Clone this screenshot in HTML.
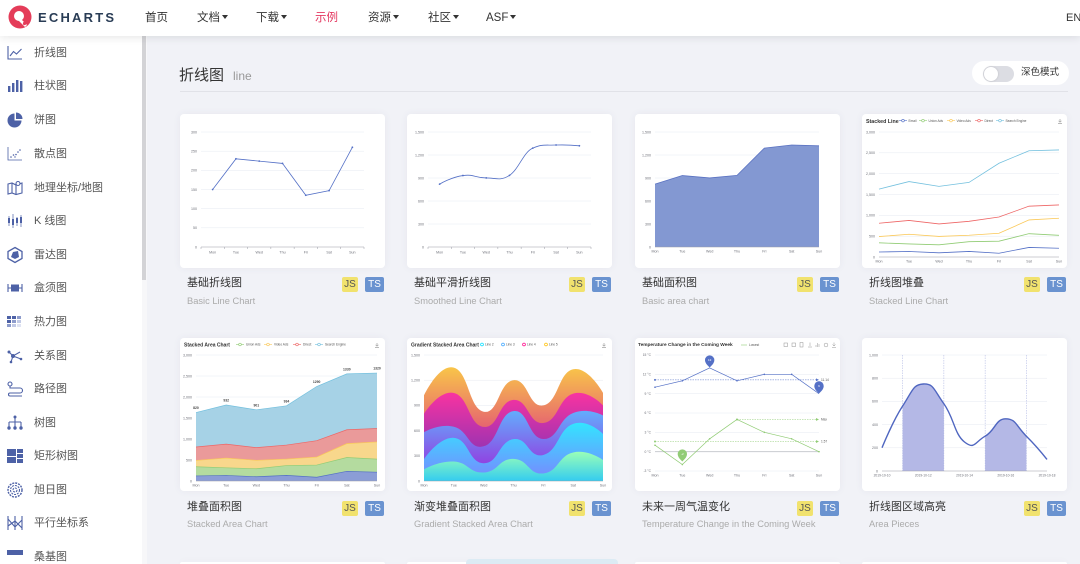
<!DOCTYPE html>
<html><head><meta charset="utf-8">
<style>
*{margin:0;padding:0;box-sizing:border-box}
html{width:1080px;height:564px;overflow:hidden}
body{width:1080px;height:564px;overflow:hidden;position:relative;background:#f1f2f7;font-family:"Liberation Sans","Noto Sans CJK SC",sans-serif;color:#333}
#wrap{position:absolute;left:0;top:0;width:1080px;height:564px;overflow:hidden}
.abs{position:absolute}
#hdr{left:0;top:0;width:1080px;height:36px;background:#fff;box-shadow:0 2px 8px rgba(0,0,0,0.09);z-index:5}
.nav{position:absolute;top:10px;font-size:11.5px;line-height:16px;color:#333;white-space:nowrap}
.nav i{display:inline-block;width:0;height:0;border-left:3px solid transparent;border-right:3px solid transparent;border-top:4px solid #333;margin-left:2px;vertical-align:2px}
#side{left:0;top:36px;width:142px;height:528px;background:#fff;z-index:2}
.si{position:absolute;left:34px;font-size:11px;color:#555;line-height:14px;white-space:nowrap}
.card{position:absolute;width:205px;background:#fff;border-radius:4px;box-shadow:0 0 8px rgba(60,70,110,0.06)}
.ct{position:absolute;font-size:11px;line-height:16px;color:#333;white-space:nowrap}
.cs{position:absolute;font-size:9.3px;line-height:14px;color:#ababab;white-space:nowrap}
.js,.ts{position:absolute;height:15px;border-radius:2px;font-size:10px;line-height:15px;text-align:center}
.js{width:16px;background:#f1e26e;color:#555}
.ts{width:19px;background:#6a93d0;color:#fff}
svg text{font-family:"Liberation Sans",sans-serif}
</style></head><body>
<div id="wrap">

<div id="hdr" class="abs">
  <svg class="abs" style="left:0;top:0" width="40" height="36">
    <circle cx="20" cy="17" r="11.5" fill="#e43c59"/>
    <circle cx="19" cy="16" r="5" fill="#fff"/>
    <path d="M21 19 L27 25 L25 27 L19 21 Z" fill="#fff"/>
    <circle cx="24.5" cy="23.5" r="1.6" fill="#e43c59"/>
  </svg>
  <div class="abs" style="left:38px;top:9px;font-size:13px;font-weight:bold;letter-spacing:2.2px;color:#293c55;line-height:18px">ECHARTS</div>
  <div class="nav" style="left:145px">首页</div>
  <div class="nav" style="left:197px">文档<i></i></div>
  <div class="nav" style="left:256px">下载<i></i></div>
  <div class="nav" style="left:315px;color:#e43961">示例</div>
  <div class="nav" style="left:368px">资源<i></i></div>
  <div class="nav" style="left:428px">社区<i></i></div>
  <div class="nav" style="left:486px">ASF<i></i></div>
  <div class="nav" style="left:1066px;font-size:11px">EN</div>
</div>

<div id="side" class="abs"></div>
<div class="abs" style="left:142px;top:36px;width:5px;height:528px;background:#f7f7f9;z-index:2"></div>
<div class="abs" style="left:142px;top:36px;width:4px;height:244px;background:#d3d3d6;z-index:3"></div>

<svg class="abs" style="left:0;top:0;z-index:3" width="30" height="564" fill="none" stroke="#4d61a6" stroke-width="1.1">
 <g transform="translate(7,45)"><path d="M1 1V14H15"/><path d="M3 11L6.5 6.5L9.5 9L14.5 4"/></g>
 <g transform="translate(7,78)" fill="#4d61a6" stroke="none"><rect x="1" y="8" width="2.4" height="6"/><rect x="5" y="5" width="2.4" height="9"/><rect x="9" y="2" width="2.4" height="12"/><rect x="13" y="3" width="2.4" height="11"/></g>
 <g transform="translate(7,112)" fill="#4d61a6" stroke="none"><path d="M7.5 8.5V1.5A7 7 0 1 0 14.5 8.5Z"/><path d="M9 7V0.5A6.5 6.5 0 0 1 15.5 7Z"/></g>
 <g transform="translate(7,146)"><path d="M1 1V14H15" stroke-width="0.8"/><g fill="#4d61a6" stroke="none"><circle cx="4" cy="11" r="0.8"/><circle cx="6.5" cy="9" r="0.8"/><circle cx="9" cy="8.5" r="0.8"/><circle cx="11" cy="6" r="0.8"/><circle cx="13" cy="4" r="0.8"/><circle cx="8" cy="11" r="0.7"/></g></g>
 <g transform="translate(7,180)"><path d="M1 4L5 3L9 5L15 3V13L9 14.5L5 13L1 14Z"/><path d="M5 3V13M9 5V14.5"/><circle cx="11" cy="3.5" r="2" fill="#fff"/></g>
 <g transform="translate(7,213)" fill="#4d61a6" stroke="#4d61a6"><path d="M2 3V13M6 1V15M10 4V13M14 2V14" stroke-width="0.7"/><rect x="1" y="5" width="2" height="5" stroke="none"/><rect x="5" y="6" width="2" height="6" stroke="none"/><rect x="9" y="5" width="2" height="5" stroke="none"/><rect x="13" y="4" width="2" height="6" stroke="none"/></g>
 <g transform="translate(7,247)"><path d="M8 0.5L15 4.5V11.5L8 15.5L1 11.5V4.5Z" stroke-width="1.3"/><path d="M4 10L6 5L11 4L12 10L8 12Z" fill="#4d61a6" stroke="none"/></g>
 <g transform="translate(7,280)"><path d="M1 4V12M15 4V12M1 8H4M12 8H15"/><rect x="4" y="4.5" width="8" height="7" fill="#4d61a6" stroke="none"/></g>
 <g transform="translate(7,314)" stroke="none"><rect x="0" y="2" width="4" height="3" fill="#4d61a6"/><rect x="5" y="2" width="4" height="3" fill="#4d61a6"/><rect x="10" y="2" width="4" height="3" fill="#8e9ccc"/><rect x="0" y="6" width="4" height="3" fill="#4d61a6"/><rect x="5" y="6" width="4" height="3" fill="#8e9ccc"/><rect x="10" y="6" width="4" height="3" fill="#c2cae6"/><rect x="0" y="10" width="4" height="3" fill="#8e9ccc"/><rect x="5" y="10" width="4" height="3" fill="#c2cae6"/><rect x="10" y="10" width="4" height="3" fill="#dfe3f2"/></g>
 <g transform="translate(7,348)"><path d="M2 4L6 8L13 4M6 8L4 14M6 8L14 11"/><g fill="#4d61a6" stroke="none"><circle cx="2" cy="4" r="1.5"/><circle cx="6" cy="8" r="2"/><circle cx="4" cy="14" r="1.3"/><circle cx="14" cy="11" r="1.3"/></g></g>
 <g transform="translate(7,381)"><circle cx="3" cy="3" r="2"/><path d="M3 5V7H13A2.5 2.5 0 0 1 13 12H3A1.5 1.5 0 0 0 3 15H15"/></g>
 <g transform="translate(7,415)"><path d="M8 2V7M2 7H14M2 7V12M8 7V12M14 7V12"/><g fill="#4d61a6" stroke="none"><circle cx="8" cy="2" r="1.5"/><circle cx="2" cy="13" r="1.7"/><circle cx="8" cy="13" r="1.7"/><circle cx="14" cy="13" r="1.7"/></g></g>
 <g transform="translate(7,448)" fill="#4d61a6" stroke="none"><rect x="0" y="1" width="9" height="7"/><rect x="0" y="9" width="9" height="6"/><rect x="10" y="1" width="6" height="4"/><rect x="10" y="6" width="6" height="4"/><rect x="10" y="11" width="6" height="4"/></g>
 <g transform="translate(7,482)" stroke-dasharray="2 1"><circle cx="8" cy="8" r="7" stroke-width="1.4"/><circle cx="8" cy="8" r="4.5"/><circle cx="8" cy="8" r="2"/></g>
 <g transform="translate(7,515)"><path d="M1 1V15M8 1V15M15 1V15M1 4L8 12L15 5M1 11L8 6L15 13"/></g>
 <g transform="translate(7,549)" fill="#4d61a6" stroke="none"><rect x="0" y="1" width="16" height="5"/></g>
</svg>

<div class="si" style="top:46px;z-index:3">折线图</div>
<div class="si" style="top:79px;z-index:3">柱状图</div>
<div class="si" style="top:113px;z-index:3">饼图</div>
<div class="si" style="top:147px;z-index:3">散点图</div>
<div class="si" style="top:181px;z-index:3">地理坐标/地图</div>
<div class="si" style="top:214px;z-index:3">K 线图</div>
<div class="si" style="top:248px;z-index:3">雷达图</div>
<div class="si" style="top:281px;z-index:3">盒须图</div>
<div class="si" style="top:315px;z-index:3">热力图</div>
<div class="si" style="top:349px;z-index:3">关系图</div>
<div class="si" style="top:382px;z-index:3">路径图</div>
<div class="si" style="top:416px;z-index:3">树图</div>
<div class="si" style="top:449px;z-index:3">矩形树图</div>
<div class="si" style="top:483px;z-index:3">旭日图</div>
<div class="si" style="top:516px;z-index:3">平行坐标系</div>
<div class="si" style="top:550px;z-index:3">桑基图</div>

<div class="abs" style="left:179px;top:66px;font-size:15px;line-height:20px;color:#333">折线图</div>
<div class="abs" style="left:233px;top:68px;font-size:12px;line-height:17px;color:#999">line</div>
<div class="abs" style="left:180px;top:91px;width:888px;height:1px;background:#e1e2e8"></div>

<div class="abs" style="left:972px;top:61px;width:97px;height:24px;background:#fff;border-radius:12px"></div>
<div class="abs" style="left:983px;top:66px;width:31px;height:16px;background:#dcdde3;border-radius:8px"></div>
<div class="abs" style="left:984px;top:67px;width:14px;height:14px;background:#fff;border-radius:7px;box-shadow:0 0 2px rgba(0,0,0,0.15)"></div>
<div class="abs" style="left:1021px;top:66px;font-size:9.5px;line-height:14px;color:#333">深色模式</div>

<div class="card" style="left:180px;top:114px;height:154px"></div>
<div class="card" style="left:407px;top:114px;height:154px"></div>
<div class="card" style="left:635px;top:114px;height:154px"></div>
<div class="card" style="left:862px;top:114px;height:154px"></div>
<div class="card" style="left:180px;top:338px;height:153px"></div>
<div class="card" style="left:407px;top:338px;height:153px"></div>
<div class="card" style="left:635px;top:338px;height:153px"></div>
<div class="card" style="left:862px;top:338px;height:153px"></div>
<div class="card" style="left:180px;top:562px;height:2px;border-radius:4px 4px 0 0"></div>
<div class="card" style="left:407px;top:562px;height:2px;border-radius:4px 4px 0 0"></div>
<div class="abs" style="left:466px;top:559px;width:152px;height:5px;background:#dcebf4;border-radius:4px 4px 0 0"></div>
<div class="card" style="left:635px;top:562px;height:2px;border-radius:4px 4px 0 0"></div>
<div class="card" style="left:862px;top:562px;height:2px;border-radius:4px 4px 0 0"></div>

<div class="ct" style="left:187px;top:275px">基础折线图</div>
<div class="cs" style="left:187px;top:294px">Basic Line Chart</div>
<div class="js" style="left:342px;top:277px">JS</div><div class="ts" style="left:365px;top:277px">TS</div>

<div class="ct" style="left:414px;top:275px">基础平滑折线图</div>
<div class="cs" style="left:414px;top:294px">Smoothed Line Chart</div>
<div class="js" style="left:569px;top:277px">JS</div><div class="ts" style="left:592px;top:277px">TS</div>

<div class="ct" style="left:642px;top:275px">基础面积图</div>
<div class="cs" style="left:642px;top:294px">Basic area chart</div>
<div class="js" style="left:797px;top:277px">JS</div><div class="ts" style="left:820px;top:277px">TS</div>

<div class="ct" style="left:869px;top:275px">折线图堆叠</div>
<div class="cs" style="left:869px;top:294px">Stacked Line Chart</div>
<div class="js" style="left:1024px;top:277px">JS</div><div class="ts" style="left:1047px;top:277px">TS</div>

<div class="ct" style="left:187px;top:499px">堆叠面积图</div>
<div class="cs" style="left:187px;top:517px">Stacked Area Chart</div>
<div class="js" style="left:342px;top:501px">JS</div><div class="ts" style="left:365px;top:501px">TS</div>

<div class="ct" style="left:414px;top:499px">渐变堆叠面积图</div>
<div class="cs" style="left:414px;top:517px">Gradient Stacked Area Chart</div>
<div class="js" style="left:569px;top:501px">JS</div><div class="ts" style="left:592px;top:501px">TS</div>

<div class="ct" style="left:642px;top:499px">未来一周气温变化</div>
<div class="cs" style="left:642px;top:517px">Temperature Change in the Coming Week</div>
<div class="js" style="left:797px;top:501px">JS</div><div class="ts" style="left:820px;top:501px">TS</div>

<div class="ct" style="left:869px;top:499px">折线图区域高亮</div>
<div class="cs" style="left:869px;top:517px">Area Pieces</div>
<div class="js" style="left:1024px;top:501px">JS</div><div class="ts" style="left:1047px;top:501px">TS</div>

<svg class="abs" style="left:0;top:0;z-index:1" width="1080" height="564">
<defs>
 <linearGradient id="g1" gradientUnits="userSpaceOnUse" x1="0" y1="452" x2="0" y2="481"><stop offset="0" stop-color="#99ffb7"/><stop offset="1" stop-color="#34ccf0"/></linearGradient>
 <linearGradient id="g2" gradientUnits="userSpaceOnUse" x1="0" y1="423" x2="0" y2="473"><stop offset="0" stop-color="#33e4ff"/><stop offset="1" stop-color="#7192ff"/></linearGradient>
 <linearGradient id="g3" gradientUnits="userSpaceOnUse" x1="0" y1="407" x2="0" y2="463"><stop offset="0" stop-color="#5fb5ff"/><stop offset="1" stop-color="#9044e2"/></linearGradient>
 <linearGradient id="g4" gradientUnits="userSpaceOnUse" x1="0" y1="389" x2="0" y2="447"><stop offset="0" stop-color="#ff339f"/><stop offset="1" stop-color="#9f33b1"/></linearGradient>
 <linearGradient id="g5" gradientUnits="userSpaceOnUse" x1="0" y1="366" x2="0" y2="427"><stop offset="0" stop-color="#f9c748"/><stop offset="1" stop-color="#e66570"/></linearGradient>
 <clipPath id="pc"><rect x="902.63" y="350" width="41.25" height="125"/><rect x="985.13" y="350" width="41.25" height="125"/></clipPath>
</defs>
<g font-size="3.6" fill="#6e7079">

<g stroke="#e6e9f1" stroke-width="0.5"><path d="M201 132H364M201 151.17H364M201 170.33H364M201 189.5H364M201 208.67H364M201 227.83H364"/></g>
<path d="M201 247H364M201 247v2M224.29 247v2M247.57 247v2M270.86 247v2M294.14 247v2M317.43 247v2M340.71 247v2M364 247v2" stroke="#9a9ca6" stroke-width="0.5"/>
<g text-anchor="end"><text x="197" y="133.3">300</text><text x="197" y="152.5">250</text><text x="197" y="171.6">200</text><text x="197" y="190.8">150</text><text x="197" y="210">100</text><text x="197" y="229.1">50</text><text x="197" y="248.3">0</text></g>
<g text-anchor="middle"><text x="212.64" y="253.5">Mon</text><text x="235.93" y="253.5">Tue</text><text x="259.21" y="253.5">Wed</text><text x="282.5" y="253.5">Thu</text><text x="305.79" y="253.5">Fri</text><text x="329.07" y="253.5">Sat</text><text x="352.36" y="253.5">Sun</text></g>
<polyline points="212.64,189.5 235.93,158.83 259.21,161.13 282.5,163.43 305.79,195.25 329.07,190.65 352.36,147.33" fill="none" stroke="#5470c6" stroke-width="0.8"/>
<g fill="#5470c6"><circle cx="212.64" cy="189.5" r="0.9"/><circle cx="235.93" cy="158.83" r="0.9"/><circle cx="259.21" cy="161.13" r="0.9"/><circle cx="282.5" cy="163.43" r="0.9"/><circle cx="305.79" cy="195.25" r="0.9"/><circle cx="329.07" cy="190.65" r="0.9"/><circle cx="352.36" cy="147.33" r="0.9"/></g>

<g stroke="#e6e9f1" stroke-width="0.5"><path d="M428 132H591M428 155H591M428 178H591M428 201H591M428 224H591"/></g>
<path d="M428 247H591M428 247v2M451.29 247v2M474.57 247v2M497.86 247v2M521.14 247v2M544.43 247v2M567.71 247v2M591 247v2" stroke="#9a9ca6" stroke-width="0.5"/>
<g text-anchor="end"><text x="424" y="133.3">1,500</text><text x="424" y="156.3">1,200</text><text x="424" y="179.3">900</text><text x="424" y="202.3">600</text><text x="424" y="225.3">300</text><text x="424" y="248.3">0</text></g>
<g text-anchor="middle"><text x="439.64" y="253.5">Mon</text><text x="462.93" y="253.5">Tue</text><text x="486.21" y="253.5">Wed</text><text x="509.5" y="253.5">Thu</text><text x="532.79" y="253.5">Fri</text><text x="556.07" y="253.5">Sat</text><text x="579.36" y="253.5">Sun</text></g>
<path d="M439.64,184.13 C439.64,184.13 451.29,177.1 462.93,175.55 C474.57,174 474.57,177.96 486.21,177.92 C495.4,177.9 500.3,181.3 509.5,175.39 C519,169 523.5,152 532.79,148.1 C542,144 544.43,145.4 556.07,145.03 C567.71,144.6 579.36,145.8 579.36,145.8" fill="none" stroke="#5470c6" stroke-width="0.8"/>
<g fill="#5470c6"><circle cx="439.64" cy="184.13" r="0.9"/><circle cx="462.93" cy="175.55" r="0.9"/><circle cx="486.21" cy="177.92" r="0.9"/><circle cx="509.5" cy="175.39" r="0.9"/><circle cx="532.79" cy="148.1" r="0.9"/><circle cx="556.07" cy="145.03" r="0.9"/><circle cx="579.36" cy="145.8" r="0.9"/></g>

<g stroke="#e6e9f1" stroke-width="0.5"><path d="M655 132H819M655 155H819M655 178H819M655 201H819M655 224H819"/></g>
<polygon points="655,184.13 682.33,175.55 709.67,177.92 737,175.39 764.33,148.1 791.67,145.03 819,145.8 819,247 655,247" fill="#8398d2"/>
<polyline points="655,184.13 682.33,175.55 709.67,177.92 737,175.39 764.33,148.1 791.67,145.03 819,145.8" fill="none" stroke="#5a72c2" stroke-width="0.8"/>
<path d="M655 247H819" stroke="#9a9ca6" stroke-width="0.5"/>
<g text-anchor="end"><text x="651" y="133.3">1,500</text><text x="651" y="156.3">1,200</text><text x="651" y="179.3">900</text><text x="651" y="202.3">600</text><text x="651" y="225.3">300</text><text x="651" y="248.3">0</text></g>
<g text-anchor="middle"><text x="655" y="252.5">Mon</text><text x="682.33" y="252.5">Tue</text><text x="709.67" y="252.5">Wed</text><text x="737" y="252.5">Thu</text><text x="764.33" y="252.5">Fri</text><text x="791.67" y="252.5">Sat</text><text x="819" y="252.5">Sun</text></g>

<text x="866" y="123" font-size="5.3" font-weight="bold" fill="#333">Stacked Line</text>
<g stroke-width="0.6" fill="#fff">
 <path d="M899 120.6H907" stroke="#5470c6"/><circle cx="903" cy="120.6" r="1.3" stroke="#5470c6"/>
 <path d="M919 120.6H927" stroke="#91cc75"/><circle cx="923" cy="120.6" r="1.3" stroke="#91cc75"/>
 <path d="M947 120.6H955" stroke="#fac858"/><circle cx="951" cy="120.6" r="1.3" stroke="#fac858"/>
 <path d="M975 120.6H983" stroke="#ee6666"/><circle cx="979" cy="120.6" r="1.3" stroke="#ee6666"/>
 <path d="M996 120.6H1004" stroke="#73c0de"/><circle cx="1000" cy="120.6" r="1.3" stroke="#73c0de"/>
</g>
<g font-size="3.2" fill="#555"><text x="908.5" y="121.8">Email</text><text x="928.5" y="121.8">Union Ads</text><text x="956.5" y="121.8">Video Ads</text><text x="984.5" y="121.8">Direct</text><text x="1005.5" y="121.8">Search Engine</text></g>
<path d="M1060 119v3M1058.5 120.8l1.5 1.5 1.5-1.5M1058 123.5h4" stroke="#777" stroke-width="0.5" fill="none"/>
<g stroke="#e6e9f1" stroke-width="0.5"><path d="M879 132H1059M879 152.83H1059M879 173.67H1059M879 194.5H1059M879 215.33H1059M879 236.17H1059"/></g>
<path d="M879 257H1059" stroke="#9a9ca6" stroke-width="0.5"/>
<g text-anchor="end"><text x="875" y="133.3">3,000</text><text x="875" y="154.1">2,500</text><text x="875" y="175">2,000</text><text x="875" y="195.8">1,500</text><text x="875" y="216.6">1,000</text><text x="875" y="237.5">500</text><text x="875" y="258.3">0</text></g>
<g text-anchor="middle"><text x="879" y="262.5">Mon</text><text x="909" y="262.5">Tue</text><text x="939" y="262.5">Wed</text><text x="969" y="262.5">Thu</text><text x="999" y="262.5">Fri</text><text x="1029" y="262.5">Sat</text><text x="1059" y="262.5">Sun</text></g>
<g fill="none" stroke-width="0.8">
 <polyline stroke="#5470c6" points="879,252 909,251.5 939,252.79 969,251.42 999,253.25 1029,247.42 1059,248.25"/>
 <polyline stroke="#91cc75" points="879,242.83 909,243.92 939,244.83 969,241.67 999,241.17 1029,233.67 1059,235.33"/>
 <polyline stroke="#fac858" points="879,236.58 909,234.25 939,236.46 969,235.25 999,233.25 1029,219.92 1059,218.25"/>
 <polyline stroke="#ee6666" points="879,223.25 909,220.42 939,223.92 969,221.33 999,217 1029,206.17 1059,204.92"/>
 <polyline stroke="#73c0de" points="879,189.08 909,181.58 939,186.38 969,182.42 999,163.25 1029,150.75 1059,149.92"/>
</g>

<g stroke="#e6e9f1" stroke-width="0.5"><path d="M196 355H377M196 376H377M196 397H377M196 418H377M196 439H377M196 460H377"/></g>
<polygon fill="#a6d2e6" points="196,412.54 226.17,404.98 256.33,409.81 286.5,405.82 316.67,386.5 346.83,373.9 377,373.06 377,481 196,481"/>
<polygon fill="#ea9a9a" points="196,446.98 226.17,444.12 256.33,447.65 286.5,445.05 316.67,440.68 346.83,429.76 377,428.5 377,481 196,481"/>
<polygon fill="#f8d78c" points="196,460.42 226.17,458.07 256.33,460.29 286.5,459.08 316.67,457.06 346.83,443.62 377,441.94 377,481 196,481"/>
<polygon fill="#b4db9f" points="196,466.72 226.17,467.81 256.33,468.74 286.5,465.54 316.67,465.04 346.83,457.48 377,459.16 377,481 196,481"/>
<polygon fill="#8b9dd6" points="196,475.96 226.17,475.46 256.33,476.76 286.5,475.37 316.67,477.22 346.83,471.34 377,472.18 377,481 196,481"/>
<g fill="none" stroke-width="0.7">
 <polyline stroke="#73c0de" points="196,412.54 226.17,404.98 256.33,409.81 286.5,405.82 316.67,386.5 346.83,373.9 377,373.06"/>
 <polyline stroke="#ee6666" points="196,446.98 226.17,444.12 256.33,447.65 286.5,445.05 316.67,440.68 346.83,429.76 377,428.5"/>
 <polyline stroke="#fac858" points="196,460.42 226.17,458.07 256.33,460.29 286.5,459.08 316.67,457.06 346.83,443.62 377,441.94"/>
 <polyline stroke="#91cc75" points="196,466.72 226.17,467.81 256.33,468.74 286.5,465.54 316.67,465.04 346.83,457.48 377,459.16"/>
 <polyline stroke="#5470c6" points="196,475.96 226.17,475.46 256.33,476.76 286.5,475.37 316.67,477.22 346.83,471.34 377,472.18"/>
</g>
<path d="M196 481H377" stroke="#9a9ca6" stroke-width="0.5"/>
<g text-anchor="end"><text x="192" y="356.3">3,000</text><text x="192" y="377.3">2,500</text><text x="192" y="398.3">2,000</text><text x="192" y="419.3">1,500</text><text x="192" y="440.3">1,000</text><text x="192" y="461.3">500</text><text x="192" y="482.3">0</text></g>
<g text-anchor="middle"><text x="196" y="486.3">Mon</text><text x="226.17" y="486.3">Tue</text><text x="256.33" y="486.3">Wed</text><text x="286.5" y="486.3">Thu</text><text x="316.67" y="486.3">Fri</text><text x="346.83" y="486.3">Sat</text><text x="377" y="486.3">Sun</text></g>
<g text-anchor="middle" font-weight="bold" fill="#444" font-size="3.4"><text x="196" y="409">820</text><text x="226.17" y="401.5">932</text><text x="256.33" y="406.3">901</text><text x="286.5" y="402.3">934</text><text x="316.67" y="383">1290</text><text x="346.83" y="370.4">1330</text><text x="377" y="369.6">1320</text></g>
<text x="184" y="346.5" font-size="5" font-weight="bold" fill="#333">Stacked Area Chart</text>
<g stroke-width="0.6" fill="#fff">
 <path d="M236 344.5H244" stroke="#91cc75"/><circle cx="240" cy="344.5" r="1.3" stroke="#91cc75"/>
 <path d="M264 344.5H272" stroke="#fac858"/><circle cx="268" cy="344.5" r="1.3" stroke="#fac858"/>
 <path d="M293 344.5H301" stroke="#ee6666"/><circle cx="297" cy="344.5" r="1.3" stroke="#ee6666"/>
 <path d="M315 344.5H323" stroke="#73c0de"/><circle cx="319" cy="344.5" r="1.3" stroke="#73c0de"/>
</g>
<g font-size="3.2" fill="#555"><text x="246" y="345.7">Union Ads</text><text x="274" y="345.7">Video Ads</text><text x="303" y="345.7">Direct</text><text x="325" y="345.7">Search Engine</text></g>
<path d="M377 343v3M375.5 344.8l1.5 1.5 1.5-1.5M375 347.5h4" stroke="#777" stroke-width="0.5" fill="none"/>

<g stroke="#e6e9f1" stroke-width="0.5"><path d="M424 355H603M424 380.2H603M424 405.4H603M424 430.6H603M424 455.8H603"/></g>
<path fill="url(#g5)" d="M424,395.32 C424,395.32 438.91,363.51 453.83,367.6 C468.75,371.7 468.75,408.55 483.67,411.7 C498.59,414.85 498.58,381.78 513.5,380.2 C528.42,378.63 528.41,408.13 543.33,405.4 C558.25,402.67 558.25,372.43 573.17,369.28 C588.09,366.13 603,392.8 603,392.8 L603,481 L424,481Z"/>
<path fill="url(#g4)" d="M424,413.8 C424,413.8 438.91,389.7 453.83,392.97 C468.75,396.25 468.75,425.18 483.67,426.9 C498.59,428.62 498.58,400.83 513.5,399.86 C528.42,398.9 528.41,424.6 543.33,423.04 C558.25,421.49 558.25,398.05 573.17,393.64 C588.09,389.23 603,405.4 603,405.4 L603,481 L424,481Z"/>
<path fill="url(#g3)" d="M424,432.28 C424,432.28 438.91,423.23 453.83,426.74 C468.75,430.25 468.75,450.22 483.67,446.31 C498.59,442.4 498.58,412.94 513.5,411.11 C528.42,409.28 528.41,438.54 543.33,439 C558.25,439.46 558.25,418.84 573.17,412.96 C588.09,407.08 603,415.48 603,415.48 L603,481 L424,481Z"/>
<path fill="url(#g2)" d="M424,459.16 C424,459.16 438.91,436.81 453.83,437.82 C468.75,438.83 468.75,462.85 483.67,463.19 C498.59,463.53 498.58,441.23 513.5,439.17 C528.42,437.11 528.41,458.78 543.33,454.96 C558.25,451.14 558.25,429.13 573.17,423.88 C588.09,418.63 603,433.96 603,433.96 L603,481 L424,481Z"/>
<path fill="url(#g1)" d="M424,469.24 C424,469.24 438.91,460.69 453.83,461.51 C468.75,462.33 468.75,473.19 483.67,472.52 C498.59,471.85 498.58,458.59 513.5,458.82 C528.42,459.05 528.41,475.04 543.33,473.44 C558.25,471.85 558.25,455.8 573.17,452.44 C588.09,449.08 603,460 603,460 L603,481 L424,481Z"/>
<path d="M424 481H603" stroke="#9a9ca6" stroke-width="0.5"/>
<g text-anchor="end"><text x="420" y="356.3">1,500</text><text x="420" y="381.5">1,200</text><text x="420" y="406.7">900</text><text x="420" y="431.9">600</text><text x="420" y="457.1">300</text><text x="420" y="482.3">0</text></g>
<g text-anchor="middle"><text x="424" y="486.3">Mon</text><text x="453.83" y="486.3">Tue</text><text x="483.67" y="486.3">Wed</text><text x="513.5" y="486.3">Thu</text><text x="543.33" y="486.3">Fri</text><text x="573.17" y="486.3">Sat</text><text x="603" y="486.3">Sun</text></g>
<text x="411" y="346.5" font-size="5" font-weight="bold" fill="#333">Gradient Stacked Area Chart</text>
<g fill="#fff" stroke-width="0.7"><circle cx="482" cy="344.5" r="1.4" stroke="#00ddff"/><circle cx="503" cy="344.5" r="1.4" stroke="#37a2ff"/><circle cx="524" cy="344.5" r="1.4" stroke="#ff0087"/><circle cx="546" cy="344.5" r="1.4" stroke="#ffbf00"/></g>
<g font-size="3.2" fill="#555"><text x="485" y="345.7">Line 2</text><text x="506" y="345.7">Line 3</text><text x="527" y="345.7">Line 4</text><text x="549" y="345.7">Line 5</text></g>
<path d="M604 343v3M602.5 344.8l1.5 1.5 1.5-1.5M602 347.5h4" stroke="#777" stroke-width="0.5" fill="none"/>

<g stroke="#e6e9f1" stroke-width="0.5"><path d="M655 355H819M655 374.33H819M655 393.67H819M655 413H819M655 432.33H819M655 471H819"/></g>
<path d="M655 451.67H819" stroke="#c9cbd1" stroke-width="1"/>
<g text-anchor="end" font-size="3.3"><text x="651" y="356.2">15 °C</text><text x="651" y="375.5">12 °C</text><text x="651" y="394.9">9 °C</text><text x="651" y="414.2">6 °C</text><text x="651" y="433.5">3 °C</text><text x="651" y="452.9">0 °C</text><text x="651" y="472.2">-3 °C</text></g>
<g text-anchor="middle"><text x="655" y="476.5">Mon</text><text x="682.33" y="476.5">Tue</text><text x="709.67" y="476.5">Wed</text><text x="737" y="476.5">Thu</text><text x="764.33" y="476.5">Fri</text><text x="791.67" y="476.5">Sat</text><text x="819" y="476.5">Sun</text></g>
<path d="M655 379.88H817" stroke="#5470c6" stroke-width="0.5" stroke-dasharray="1.5 1" fill="none"/>
<circle cx="655" cy="379.88" r="1" fill="#5470c6"/><path d="M816 378.4L819 379.88L816 381.3Z" fill="#5470c6"/>
<path d="M655 441.55H817M737 419.44H817" stroke="#91cc75" stroke-width="0.5" stroke-dasharray="1.5 1" fill="none"/>
<circle cx="655" cy="441.55" r="1" fill="#91cc75"/><path d="M816 440.1L819 441.55L816 443Z" fill="#91cc75"/>
<circle cx="737" cy="419.44" r="1" fill="#91cc75"/><path d="M816 418L819 419.44L816 420.9Z" fill="#91cc75"/>
<g font-size="3.2" fill="#555"><text x="821" y="381">11.14</text><text x="821" y="420.6">Max</text><text x="821" y="442.7">1.57</text></g>
<polyline points="655,387.22 682.33,380.78 709.67,367.89 737,380.78 764.33,374.33 791.67,374.33 819,393.67" fill="none" stroke="#5470c6" stroke-width="0.7"/>
<polyline points="655,445.22 682.33,464.56 709.67,438.78 737,419.44 764.33,432.33 791.67,438.78 819,451.67" fill="none" stroke="#91cc75" stroke-width="0.7"/>
<g fill="#5470c6"><circle cx="655" cy="387.22" r="0.8"/><circle cx="682.33" cy="380.78" r="0.8"/><circle cx="737" cy="380.78" r="0.8"/><circle cx="764.33" cy="374.33" r="0.8"/><circle cx="791.67" cy="374.33" r="0.8"/></g>
<g fill="#91cc75"><circle cx="655" cy="445.22" r="0.8"/><circle cx="709.67" cy="438.78" r="0.8"/><circle cx="737" cy="419.44" r="0.8"/><circle cx="764.33" cy="432.33" r="0.8"/><circle cx="791.67" cy="438.78" r="0.8"/><circle cx="819" cy="451.67" r="0.8"/><circle cx="682.33" cy="464.56" r="0.8"/></g>
<path d="M709.67,367.5 C706.5,364.5 705,362.5 705,360 A4.67,4.67 0 1 1 714.34,360 C714.34,362.5 712.8,364.5 709.67,367.5Z" fill="#5470c6"/>
<path d="M819,393.5 C815.8,390.5 814.3,388.5 814.3,386 A4.7,4.7 0 1 1 823.7,386 C823.7,388.5 822.2,390.5 819,393.5Z" fill="#5470c6"/>
<path d="M682.33,461.5 C679.2,458.5 677.7,456.5 677.7,454 A4.65,4.65 0 1 1 687,454 C687,456.5 685.5,458.5 682.33,461.5Z" fill="#91cc75"/>
<g font-size="3" fill="#fff" text-anchor="middle"><text x="709.67" y="361">13</text><text x="819" y="387">9</text><text x="682.33" y="455">-2</text></g>
<text x="638" y="346" font-size="4.8" font-weight="bold" fill="#333">Temperature Change in the Coming Week</text>
<path d="M741 345H747" stroke="#91cc75" stroke-width="0.6"/><text x="749" y="346" font-size="3.2" fill="#555">Lowest</text>
<g fill="none" stroke="#888" stroke-width="0.45">
 <rect x="784" y="343" width="3.5" height="3.5"/><rect x="792" y="343" width="3.5" height="3.5"/><rect x="800" y="342.5" width="3" height="4.5"/>
 <path d="M808 347h4M810 342.5v3.5"/><path d="M816 347V345M817.5 347V343M819 347V344"/><circle cx="826" cy="345" r="1.9"/><path d="M834 342.5v3M832.5 344.5l1.5 1.5 1.5-1.5M832 347.5h4"/>
</g>

<g stroke="#e6e9f1" stroke-width="0.5"><path d="M882 355H1047M882 378.2H1047M882 401.4H1047M882 424.6H1047M882 447.8H1047"/></g>
<path clip-path="url(#pc)" fill="#b4b8e6" d="M882,447.8 C882,447.8 892.32,421.99 902.63,406.04 C912.94,390.09 912.94,384.58 923.25,384 C933.56,383.42 933.57,389.22 943.88,403.72 C954.19,418.22 954.19,433.88 964.5,442 C974.81,450.12 974.82,442 985.13,436.2 C995.44,430.4 995.44,418.8 1005.75,418.8 C1016.06,418.8 1016.07,426.05 1026.38,436.2 C1036.69,446.35 1047,459.4 1047,459.4 L1047,471 L882,471Z"/>
<path d="M902.63 355V471M943.88 355V471M985.13 355V471M1026.38 355V471" stroke="#a9b1e0" stroke-width="0.5" stroke-dasharray="1.5 1"/>
<path fill="none" stroke="#4f66c0" stroke-width="1.4" d="M882,447.8 C882,447.8 892.32,421.99 902.63,406.04 C912.94,390.09 912.94,384.58 923.25,384 C933.56,383.42 933.57,389.22 943.88,403.72 C954.19,418.22 954.19,433.88 964.5,442 C974.81,450.12 974.82,442 985.13,436.2 C995.44,430.4 995.44,418.8 1005.75,418.8 C1016.06,418.8 1016.07,426.05 1026.38,436.2 C1036.69,446.35 1047,459.4 1047,459.4"/>
<path d="M882 471H1047" stroke="#9a9ca6" stroke-width="0.5"/>
<g text-anchor="end"><text x="878" y="356.3">1,000</text><text x="878" y="379.5">800</text><text x="878" y="402.7">600</text><text x="878" y="425.9">400</text><text x="878" y="449.1">200</text><text x="878" y="472.3">0</text></g>
<g text-anchor="middle" font-size="3.3"><text x="882" y="476.3">2019-10-10</text><text x="923.25" y="476.3">2019-10-12</text><text x="964.5" y="476.3">2019-10-14</text><text x="1005.75" y="476.3">2019-10-16</text><text x="1047" y="476.3">2019-10-18</text></g>
</g>
</svg>
</div>
</body></html>
